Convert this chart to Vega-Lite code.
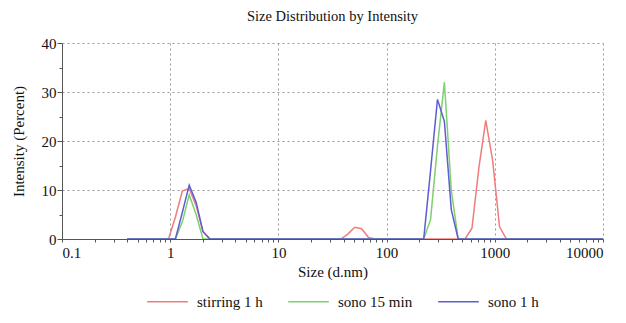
{
  "$schema": "https://vega.github.io/schema/vega-lite/v6.json",
  "autosize": {"type": "none"},
  "padding": {"left": 62, "top": 43, "right": 23, "bottom": 84},
  "width": 541,
  "height": 196,
  "background": "white",
  "title": {
    "text": "Size Distribution by Intensity",
    "font": "Liberation Serif",
    "fontSize": 14.5,
    "fontWeight": "normal",
    "color": "#111",
    "anchor": "middle",
    "offset": 12
  },
  "data": {
    "values": [
      {"size": 0.4, "intensity": 0, "sample": "stirring 1 h"},
      {"size": 0.9649, "intensity": 0, "sample": "stirring 1 h"},
      {"size": 1.117, "intensity": 4.5, "sample": "stirring 1 h"},
      {"size": 1.294, "intensity": 9.8, "sample": "stirring 1 h"},
      {"size": 1.499, "intensity": 10.3, "sample": "stirring 1 h"},
      {"size": 1.736, "intensity": 6.8, "sample": "stirring 1 h"},
      {"size": 2.01, "intensity": 1.5, "sample": "stirring 1 h"},
      {"size": 2.328, "intensity": 0, "sample": "stirring 1 h"},
      {"size": 37.84, "intensity": 0, "sample": "stirring 1 h"},
      {"size": 43.82, "intensity": 1.0, "sample": "stirring 1 h"},
      {"size": 50.75, "intensity": 2.4, "sample": "stirring 1 h"},
      {"size": 58.77, "intensity": 2.1, "sample": "stirring 1 h"},
      {"size": 68.06, "intensity": 0.3, "sample": "stirring 1 h"},
      {"size": 78.82, "intensity": 0, "sample": "stirring 1 h"},
      {"size": 531.2, "intensity": 0, "sample": "stirring 1 h"},
      {"size": 615.1, "intensity": 2.2, "sample": "stirring 1 h"},
      {"size": 712.4, "intensity": 14.5, "sample": "stirring 1 h"},
      {"size": 825, "intensity": 24.2, "sample": "stirring 1 h"},
      {"size": 955.4, "intensity": 16, "sample": "stirring 1 h"},
      {"size": 1106, "intensity": 2.5, "sample": "stirring 1 h"},
      {"size": 1281, "intensity": 0, "sample": "stirring 1 h"},
      {"size": 10000, "intensity": 0, "sample": "stirring 1 h"},
      {"size": 0.4, "intensity": 0, "sample": "sono 15 min"},
      {"size": 1.117, "intensity": 0, "sample": "sono 15 min"},
      {"size": 1.294, "intensity": 3.5, "sample": "sono 15 min"},
      {"size": 1.499, "intensity": 9, "sample": "sono 15 min"},
      {"size": 1.736, "intensity": 5, "sample": "sono 15 min"},
      {"size": 2.01, "intensity": 0, "sample": "sono 15 min"},
      {"size": 220.2, "intensity": 0, "sample": "sono 15 min"},
      {"size": 255, "intensity": 4, "sample": "sono 15 min"},
      {"size": 295.3, "intensity": 19, "sample": "sono 15 min"},
      {"size": 342, "intensity": 32, "sample": "sono 15 min"},
      {"size": 396.1, "intensity": 10, "sample": "sono 15 min"},
      {"size": 458.7, "intensity": 0, "sample": "sono 15 min"},
      {"size": 10000, "intensity": 0, "sample": "sono 15 min"},
      {"size": 0.4, "intensity": 0, "sample": "sono 1 h"},
      {"size": 1.117, "intensity": 0, "sample": "sono 1 h"},
      {"size": 1.294, "intensity": 5.4, "sample": "sono 1 h"},
      {"size": 1.499, "intensity": 11, "sample": "sono 1 h"},
      {"size": 1.736, "intensity": 7.5, "sample": "sono 1 h"},
      {"size": 2.01, "intensity": 1.5, "sample": "sono 1 h"},
      {"size": 2.328, "intensity": 0, "sample": "sono 1 h"},
      {"size": 220.2, "intensity": 0, "sample": "sono 1 h"},
      {"size": 255, "intensity": 14, "sample": "sono 1 h"},
      {"size": 295.3, "intensity": 28.5, "sample": "sono 1 h"},
      {"size": 342, "intensity": 24, "sample": "sono 1 h"},
      {"size": 396.1, "intensity": 6, "sample": "sono 1 h"},
      {"size": 458.7, "intensity": 0, "sample": "sono 1 h"},
      {"size": 10000, "intensity": 0, "sample": "sono 1 h"}
    ]
  },
  "mark": {"type": "line", "strokeWidth": 1.5, "clip": true},
  "encoding": {
    "x": {
      "field": "size",
      "type": "quantitative",
      "scale": {"type": "log", "domain": [0.1, 10000], "nice": false},
      "axis": {
        "title": "Size (d.nm)",
        "values": [0.1,0.2,0.3,0.4,0.5,0.6,0.7,0.8,0.9,1,2,3,4,5,6,7,8,9,10,20,30,40,50,60,70,80,90,100,200,300,400,500,600,700,800,900,1000,2000,3000,4000,5000,6000,7000,8000,9000,10000],
        "format": "~g",
        "labelExpr": "abs(log(datum.value)/LN10 - round(log(datum.value)/LN10)) < 0.001 ? datum.label : ''",
        "gridOpacity": {"condition": {"test": "abs(log(datum.value)/LN10 - round(log(datum.value)/LN10)) < 0.001 && datum.value > 0.2", "value": 1}, "value": 0},
        "tickSize": 3,
        "labelPadding": 3,
        "titlePadding": 4
      }
    },
    "y": {
      "field": "intensity",
      "type": "quantitative",
      "scale": {"domain": [0, 40], "nice": false},
      "axis": {
        "title": "Intensity (Percent)",
        "values": [0,5,10,15,20,25,30,35,40],
        "labelExpr": "datum.value % 10 == 0 ? datum.label : ''",
        "gridOpacity": {"condition": {"test": "datum.value % 10 == 0 && datum.value > 0", "value": 1}, "value": 0},
        "tickSize": {"condition": {"test": "datum.value % 10 == 0", "value": 5}, "value": 3},
        "labelPadding": 1,
        "titlePadding": 15
      }
    },
    "color": {
      "field": "sample",
      "type": "nominal",
      "sort": ["stirring 1 h", "sono 15 min", "sono 1 h"],
      "scale": {"domain": ["stirring 1 h", "sono 15 min", "sono 1 h"], "range": ["#f07c7c", "#7fd06e", "#5e5ed2"]},
      "legend": {
        "title": null,
        "orient": "none",
        "legendX": 84,
        "legendY": 237,
        "direction": "horizontal",
        "symbolType": "stroke",
        "symbolSize": 1650,
        "symbolStrokeWidth": 1.5,
        "labelOffset": 8,
        "columnPadding": 22
      }
    },
    "order": {"field": "size", "type": "quantitative"}
  },
  "config": {
    "view": {"stroke": null},
    "axis": {
      "labelFont": "Liberation Serif",
      "labelFontSize": 15,
      "labelColor": "#111",
      "titleFont": "Liberation Serif",
      "titleFontSize": 15,
      "titleFontWeight": "normal",
      "titleColor": "#111",
      "domainColor": "#555",
      "tickColor": "#555",
      "gridColor": "#999",
      "gridDash": [2, 3],
      "gridWidth": 1
    },
    "legend": {
      "labelFont": "Liberation Serif",
      "labelFontSize": 15,
      "labelColor": "#111"
    }
  }
}
